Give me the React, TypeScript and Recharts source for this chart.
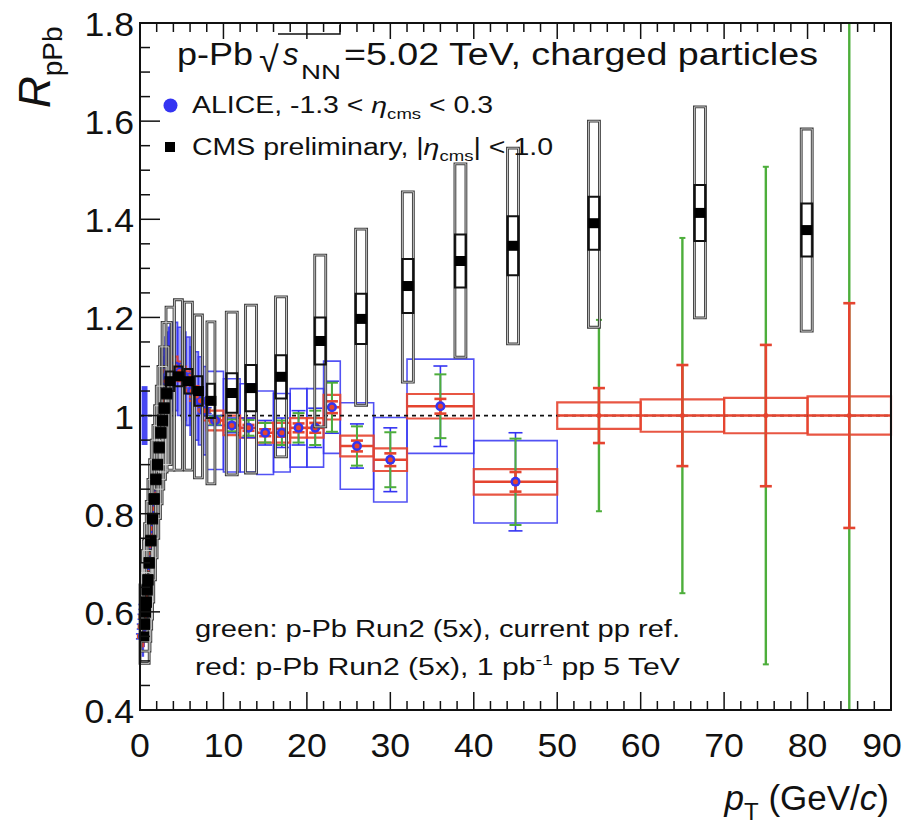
import React from "react";
import { ComposedChart, XAxis, YAxis, Scatter, ErrorBar, ReferenceArea, ReferenceLine, ReferenceDot } from "recharts";

// ALICE bins (edges), RpPb values and uncertainties
const aliceEdges = [
  0.3, 0.4, 0.5, 0.6, 0.7, 0.8, 0.9, 1.0, 1.2, 1.4, 1.6, 1.8, 2.0, 2.2, 2.4, 2.6, 2.8, 3.0, 3.2, 3.4, 3.6, 3.8, 4.0,
  4.5, 5.0, 5.5, 6.0, 6.5, 7.0, 7.5, 8, 10, 12, 14, 16, 18, 20, 22, 24, 28, 32, 40, 50
];
const aliceR = [
  0.55, 0.57, 0.59, 0.61, 0.63, 0.655, 0.68, 0.72, 0.77, 0.81, 0.855, 0.895, 0.935, 0.97, 1.0, 1.03, 1.05, 1.07, 1.08,
  1.09, 1.095, 1.1, 1.1, 1.09, 1.08, 1.07, 1.05, 1.04, 1.03, 1.01, 0.99, 0.98, 0.975, 0.965, 0.965, 0.975, 0.975,
  1.017, 0.938, 0.91, 1.019, 0.865
];
const aliceSys = [
  0.04, 0.04, 0.04, 0.04, 0.04, 0.04, 0.04, 0.06, 0.065, 0.07, 0.075, 0.08, 0.085, 0.09, 0.09, 0.09, 0.09, 0.09, 0.09,
  0.09, 0.09, 0.09, 0.09, 0.09, 0.09, 0.09, 0.09, 0.09, 0.09, 0.09, 0.1, 0.095, 0.09, 0.085, 0.08, 0.08, 0.08, 0.094,
  0.088, 0.086, 0.096, 0.084
];
const aliceStat = [
  0.005, 0.005, 0.005, 0.005, 0.005, 0.005, 0.005, 0.005, 0.005, 0.005, 0.005, 0.005, 0.005, 0.005, 0.005, 0.005,
  0.005, 0.005, 0.005, 0.005, 0.005, 0.005, 0.006, 0.006, 0.006, 0.006, 0.006, 0.006, 0.006, 0.006, 0.01, 0.015, 0.02,
  0.025, 0.03, 0.035, 0.04, 0.053, 0.045, 0.065, 0.082, 0.1
];
// projected uncertainties on the ALICE bins
const greenErr = [
  0.003, 0.003, 0.003, 0.003, 0.003, 0.003, 0.003, 0.003, 0.003, 0.003, 0.003, 0.003, 0.003, 0.003, 0.003, 0.003,
  0.003, 0.003, 0.003, 0.003, 0.003, 0.003, 0.003, 0.003, 0.003, 0.003, 0.003, 0.003, 0.003, 0.003, 0.008, 0.012,
  0.016, 0.02, 0.025, 0.03, 0.035, 0.05, 0.04, 0.056, 0.065, 0.088
];
const redErr = [
  0.002, 0.002, 0.002, 0.002, 0.002, 0.002, 0.002, 0.002, 0.002, 0.002, 0.002, 0.002, 0.002, 0.002, 0.002, 0.002,
  0.002, 0.002, 0.002, 0.002, 0.002, 0.002, 0.002, 0.002, 0.002, 0.002, 0.002, 0.002, 0.002, 0.002, 0.004, 0.005,
  0.006, 0.007, 0.008, 0.009, 0.01, 0.012, 0.011, 0.013, 0.015, 0.02
];
const redSys = [
  0.02, 0.02, 0.02, 0.02, 0.02, 0.02, 0.02, 0.02, 0.02, 0.02, 0.02, 0.02, 0.02, 0.02, 0.02, 0.02, 0.02, 0.02, 0.02, 0.02,
  0.02, 0.02, 0.02, 0.02, 0.02, 0.02, 0.02, 0.02, 0.02, 0.02, 0.02, 0.02, 0.02, 0.02, 0.02, 0.02, 0.02, 0.025, 0.021,
  0.023, 0.025, 0.026
];

// projection-only bins above 50 GeV/c
const projEdges = [50, 60, 70, 80, 90];
const projR = [1, 1, 1, 1];
const projGreenErr = [0.195, 0.362, 0.507, 0.85];
const projRedErr = [0.056, 0.103, 0.144, 0.229];
const projSys = [0.027, 0.033, 0.036, 0.039];

// CMS preliminary
const cmsPt = [
  0.45, 0.55, 0.65, 0.75, 0.85, 0.95, 1.1, 1.3, 1.5, 1.7, 1.9, 2.1, 2.3, 2.5, 2.7, 2.9, 3.2, 3.6, 4.6, 5.8, 7.0, 8.5,
  11.0, 13.3, 16.9, 21.6, 26.5, 32.1, 38.4, 44.7, 54.4, 67.1, 79.9
];
const cmsR = [
  0.55, 0.575, 0.6, 0.62, 0.645, 0.665, 0.7, 0.745, 0.79, 0.83, 0.87, 0.9, 0.935, 0.965, 0.99, 1.015, 1.045, 1.07, 1.08,
  1.07, 1.05, 1.03, 1.046, 1.056, 1.079, 1.152, 1.197, 1.264, 1.315, 1.346, 1.392, 1.413, 1.378
];
const cmsStat = [
  0.01, 0.01, 0.01, 0.01, 0.01, 0.01, 0.01, 0.01, 0.01, 0.01, 0.01, 0.01, 0.01, 0.01, 0.01, 0.01, 0.01, 0.02, 0.02,
  0.025, 0.03, 0.035, 0.04, 0.047, 0.044, 0.048, 0.051, 0.055, 0.054, 0.06, 0.054, 0.057, 0.054
];
const cmsSysLo = [
  0.47, 0.495, 0.52, 0.54, 0.565, 0.585, 0.62, 0.665, 0.71, 0.75, 0.79, 0.82, 0.85, 0.87, 0.885, 0.9, 0.9, 0.889, 0.889,
  0.889, 0.873, 0.861, 0.879, 0.883, 0.916, 0.977, 1.021, 1.068, 1.119, 1.146, 1.18, 1.199, 1.172
];
const cmsSysHi = [
  0.63, 0.655, 0.68, 0.7, 0.725, 0.745, 0.78, 0.825, 0.87, 0.91, 0.95, 0.98, 1.02, 1.06, 1.1, 1.14, 1.19, 1.221, 1.236,
  1.231, 1.205, 1.191, 1.211, 1.225, 1.242, 1.327, 1.38, 1.456, 1.513, 1.545, 1.6, 1.629, 1.584
];

const xMajor = [0, 10, 20, 30, 40, 50, 60, 70, 80, 90];
const yMajor = [0.4, 0.6, 0.8, 1.0, 1.2, 1.4, 1.6, 1.8];
const Y_MIN = 0.4;
const Y_MAX = 1.8;

const FONT = "'Liberation Sans', Arial, Helvetica, sans-serif";
const W = 908;
const H = 829;
const PLOT_W = 751;
const PLOT_H = 687;
const dx = (px: number) => (px * 90) / PLOT_W;
const dy = (px: number) => (px * (Y_MAX - Y_MIN)) / PLOT_H;
const inY = (v: number) => v >= Y_MIN && v <= Y_MAX;

const BLUE = "#3434f2";
const RED = "#e5442f";
const GREEN = "#4dae3b";

const cmsHalf = (pt: number) => (pt < 3.4 ? 0.55 : pt < 10 ? 0.48 : 0.66);

// one small table per drawn series, each holding only the fields it uses
const aliceBins = aliceR.map((y, i) => ({ lo: aliceEdges[i], hi: aliceEdges[i + 1], x: (aliceEdges[i] + aliceEdges[i + 1]) / 2, y }));
const projBins = projR.map((y, i) => ({ lo: projEdges[i], hi: projEdges[i + 1], x: (projEdges[i] + projEdges[i + 1]) / 2, y }));

const aliceBoxes = aliceBins.map((b, i) => ({ ...b, sys: aliceSys[i] }));
const aliceStatPts = aliceBins.map((b, i) => ({ x: b.x, y: b.y, stat: aliceStat[i] }));
const greenPts = aliceBins.map((b, i) => ({ x: b.x, y: b.y, g: greenErr[i] }));
const greenProj = projBins.map((b, i) => ({ x: b.x, y: b.y, g: projGreenErr[i] }));
const redBoxes = [...aliceBins.map((b, i) => ({ ...b, rs: redSys[i] })), ...projBins.map((b, i) => ({ ...b, rs: projSys[i] }))];
const redPts = [
  ...aliceBins.map((b, i) => ({ x: b.x, y: b.y, r: redErr[i], xe: (b.hi - b.lo) / 2 })),
  ...projBins.map((b, i) => ({ x: b.x, y: b.y, r: projRedErr[i], xe: (b.hi - b.lo) / 2 }))
];
const cms = cmsPt.map((x, i) => ({ x, y: cmsR[i], stat: cmsStat[i], lo: cmsSysLo[i], hi: cmsSysHi[i] }));
const cmsPts = cms.map((c) => ({ x: c.x, y: c.y }));
const projCaps = greenProj
  .flatMap((b) => [
    { x: b.x, y: b.y + b.g },
    { x: b.x, y: b.y - b.g }
  ])
  .filter((c) => inY(c.y));

const xMinor = Array.from({ length: 46 }, (_, i) => i * 2).filter((v) => v % 10 !== 0);
const yMinor = Array.from({ length: 29 }, (_, i) => +(0.4 + i * 0.05).toFixed(2)).filter((v) => !yMajor.some((m) => Math.abs(m - v) < 1e-6));

const XTick = ({ x, y, payload }: any) => (
  <g transform={`translate(${payload.value === 90 ? x - 9 : x},${y + 47}) scale(1.08,1)`}>
    <text textAnchor="middle" fontSize={33} fontFamily={FONT} fill="#111">
      {payload.value}
    </text>
  </g>
);
const YTick = ({ x, y, payload }: any) => (
  <g transform={`translate(${x},${y + 13}) scale(1.08,1)`}>
    <text textAnchor="end" fontSize={33} fontFamily={FONT} fill="#111">
      {payload.value === 1 ? "1" : payload.value.toFixed(1)}
    </text>
  </g>
);

const tickStyle = { stroke: "#111", strokeWidth: 1.5, zIndex: 800 };

export default function App() {
  return (
    <div style={{ position: "absolute", left: 0, top: 0, width: W, height: H, background: "#fff", overflow: "hidden" }}>
      <ComposedChart width={W} height={H} margin={{ top: 23, right: 17, left: 0, bottom: 0 }}>
        <XAxis
          type="number"
          dataKey="x"
          domain={[0, 90]}
          ticks={xMajor}
          allowDataOverflow
          height={119}
          tickSize={0}
          tickMargin={0}
          tickLine={false}
          axisLine={false}
          tick={<XTick />}
        />
        <YAxis
          type="number"
          dataKey="y"
          domain={[Y_MIN, Y_MAX]}
          ticks={yMajor}
          allowDataOverflow
          width={140}
          tickSize={0}
          tickMargin={6}
          tickLine={false}
          axisLine={false}
          tick={<YTick />}
        />

        <ReferenceArea x1={0.2} x2={0.9} y1={0.94} y2={1.06} fill={BLUE} fillOpacity={0.9} stroke="none" />
        {aliceBoxes.map((b, i) => (
          <ReferenceArea
            key={`as${i}`}
            x1={b.lo}
            x2={b.hi}
            y1={b.y - b.sys}
            y2={b.y + b.sys}
            fill={BLUE}
            fillOpacity={b.hi - b.lo < 1 ? 0.45 : 0}
            stroke={BLUE}
            strokeWidth={1.6}
            strokeOpacity={0.85}
          />
        ))}
        {aliceBins.map((b, i) => (
          <ReferenceDot key={`ad${i}`} x={b.x} y={b.y} r={5} fill={BLUE} stroke="none" zIndex={550} />
        ))}
        {redBoxes.map((b, i) => (
          <ReferenceArea key={`rs${i}`} x1={b.lo} x2={b.hi} y1={b.y - b.rs} y2={b.y + b.rs} fill="none" stroke={RED} strokeWidth={2.2} strokeOpacity={0.9} />
        ))}
        {redBoxes.map((b, i) => (
          <ReferenceDot key={`rd${i}`} x={b.x} y={b.y} r={2.5} fill={RED} stroke="none" zIndex={560} />
        ))}

        {/* green projected errors above 50 GeV/c, kept inside the frame */}
        {greenProj.map((b, i) => (
          <ReferenceArea
            key={`gp${i}`}
            x1={b.x - dx(1.2)}
            x2={b.x + dx(1.2)}
            y1={Math.max(Y_MIN, b.y - b.g)}
            y2={Math.min(Y_MAX, b.y + b.g)}
            fill={GREEN}
            fillOpacity={1}
            stroke="none"
          />
        ))}
        {projCaps.map((c, i) => (
          <ReferenceArea
            key={`gc${i}`}
            x1={c.x - dx(3)}
            x2={c.x + dx(3)}
            y1={c.y - dy(1)}
            y2={c.y + dy(1)}
            fill={GREEN}
            fillOpacity={1}
            stroke="none"
          />
        ))}

        {cms.map((c, i) => (
          <ReferenceArea
            key={`cs${i}`}
            x1={c.x - cmsHalf(c.x)}
            x2={c.x + cmsHalf(c.x)}
            y1={c.lo}
            y2={c.hi}
            fill="none"
            stroke="#3a3a3a"
            strokeWidth={2.8}
            zIndex={650}
          />
        ))}
        {cms.map((c, i) => (
          <ReferenceArea
            key={`cw${i}`}
            x1={c.x - cmsHalf(c.x)}
            x2={c.x + cmsHalf(c.x)}
            y1={c.lo}
            y2={c.hi}
            fill="none"
            stroke="#d4d4d4"
            strokeWidth={0.9}
            zIndex={651}
          />
        ))}
        {cms.map((c, i) => (
          <ReferenceArea
            key={`ct${i}`}
            x1={c.x - cmsHalf(c.x)}
            x2={c.x + cmsHalf(c.x)}
            y1={c.y - c.stat}
            y2={c.y + c.stat}
            fill="none"
            stroke="#111"
            strokeWidth={2}
            zIndex={652}
          />
        ))}

        <ReferenceLine y={1} stroke="#111" strokeWidth={1.8} strokeDasharray="4 4" />

        <Scatter id="aliceStat" data={aliceStatPts} isAnimationActive={false} shape={() => <g />}>
          <ErrorBar dataKey="stat" direction="y" width={7} stroke={BLUE} strokeWidth={1.6} isAnimationActive={false} />
        </Scatter>
        <Scatter id="green" data={greenPts} isAnimationActive={false} shape={() => <g />}>
          <ErrorBar dataKey="g" direction="y" width={6} stroke={GREEN} strokeWidth={2} isAnimationActive={false} />
        </Scatter>
        <Scatter id="red" data={redPts} isAnimationActive={false} shape={() => <g />}>
          <ErrorBar dataKey="r" direction="y" width={6} stroke={RED} strokeWidth={2.6} isAnimationActive={false} />
          <ErrorBar dataKey="xe" direction="x" width={0} stroke={RED} strokeWidth={2.6} isAnimationActive={false} />
        </Scatter>
        <Scatter
          id="cms"
          data={cmsPts}
          isAnimationActive={false}
          zIndex={700}
          shape={(p: any) => <rect x={p.cx - 5.5} y={p.cy - 5} width={11} height={10} fill="#000" />}
        />

        {/* ROOT-style frame with inward ticks */}
        <ReferenceArea x1={0} x2={90} y1={Y_MIN} y2={Y_MAX} fill="none" stroke="#111" strokeWidth={2} zIndex={800} />
        {xMajor.map((t) => (
          <ReferenceLine key={`bx${t}`} segment={[{ x: t, y: Y_MIN }, { x: t, y: Y_MIN + dy(18) }]} {...tickStyle} />
        ))}
        {xMinor.map((t) => (
          <ReferenceLine key={`bm${t}`} segment={[{ x: t, y: Y_MIN }, { x: t, y: Y_MIN + dy(9) }]} {...tickStyle} />
        ))}
        {xMajor.map((t) => (
          <ReferenceLine key={`tx${t}`} segment={[{ x: t, y: Y_MAX }, { x: t, y: Y_MAX - dy(16) }]} {...tickStyle} />
        ))}
        {xMinor.map((t) => (
          <ReferenceLine key={`tm${t}`} segment={[{ x: t, y: Y_MAX }, { x: t, y: Y_MAX - dy(9) }]} {...tickStyle} />
        ))}
        {yMajor.map((t) => (
          <ReferenceLine key={`ly${t}`} segment={[{ x: 0, y: t }, { x: dx(20), y: t }]} {...tickStyle} />
        ))}
        {yMinor.map((t) => (
          <ReferenceLine key={`lm${t}`} segment={[{ x: 0, y: t }, { x: dx(10), y: t }]} {...tickStyle} />
        ))}
      </ComposedChart>

      <svg width={W} height={H} style={{ position: "absolute", left: 0, top: 0, pointerEvents: "none" }} fontFamily={FONT} fill="#111">
        {/* axis titles */}
        <g transform="translate(50,108) rotate(-90)">
          <text fontSize={44}>
            <tspan fontStyle="italic">R</tspan>
            <tspan fontSize={28} dy={12}>pPb</tspan>
          </text>
        </g>
        <text x={889} y={810} fontSize={35} textAnchor="end">
          <tspan fontStyle="italic">p</tspan>
          <tspan fontSize={24} dy={10}>T</tspan>
          <tspan dy={-10}> (GeV/</tspan>
          <tspan fontStyle="italic">c</tspan>
          <tspan>)</tspan>
        </text>

        {/* header */}
        <text x={177} y={65} fontSize={31} textLength={76} lengthAdjust="spacingAndGlyphs">p-Pb</text>
        <text x={259} y={72} fontSize={36}>√</text>
        <path d="M278,34 H340 V25" stroke="#111" strokeWidth={1.5} fill="none" />
        <text x={283} y={65} fontSize={31} fontStyle="italic">s</text>
        <text x={301} y={79} fontSize={21} textLength={40} lengthAdjust="spacingAndGlyphs">NN</text>
        <text x={344} y={65} fontSize={31} textLength={474} lengthAdjust="spacingAndGlyphs">=5.02 TeV, charged particles</text>

        {/* legend */}
        <circle cx={170.5} cy={105.5} r={7} fill={BLUE} />
        <text x={192} y={113} fontSize={23} textLength={301} lengthAdjust="spacingAndGlyphs">
          ALICE, -1.3 &lt; <tspan fontStyle="italic">η</tspan>
          <tspan fontSize={15} dy={6}>cms</tspan>
          <tspan dy={-6}> &lt; 0.3</tspan>
        </text>
        <rect x={165} y={142} width={10} height={10} fill="#000" />
        <text x={192} y={155} fontSize={23} textLength={361} lengthAdjust="spacingAndGlyphs">
          CMS preliminary, |<tspan fontStyle="italic">η</tspan>
          <tspan fontSize={15} dy={6}>cms</tspan>
          <tspan dy={-6}>| &lt; 1.0</tspan>
        </text>

        {/* notes */}
        <text x={195} y={637} fontSize={23} textLength={485} lengthAdjust="spacingAndGlyphs">
          green: p-Pb Run2 (5x), current pp ref.
        </text>
        <text x={195} y={675} fontSize={23} textLength={485} lengthAdjust="spacingAndGlyphs">
          red: p-Pb Run2 (5x), 1 pb<tspan fontSize={15} dy={-10}>-1</tspan>
          <tspan dy={10}> pp 5 TeV</tspan>
        </text>
      </svg>
    </div>
  );
}
